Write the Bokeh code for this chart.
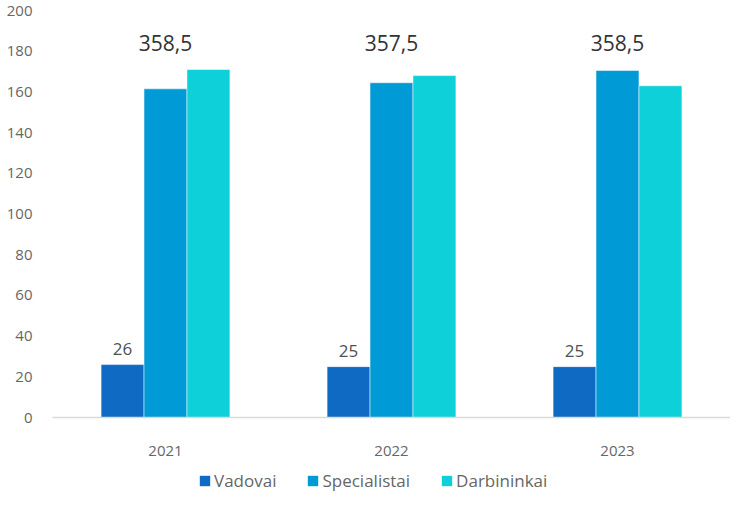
from bokeh.plotting import figure
from bokeh.layouts import column
from bokeh.models import ColumnDataSource, FactorRange, Legend, LegendItem, LabelSet, FixedTicker, Range1d
from bokeh.transform import dodge
from bokeh.embed import file_html
from bokeh.resources import INLINE
from bokeh.core.properties import value

years = ["2021", "2022", "2023"]
series = ["Vadovai", "Specialistai", "Darbininkai"]
vadovai = [26, 25, 25]
specialistai = [161.5, 164.5, 170.5]
darbininkai = [171, 168, 163]
totals = [358.5, 357.5, 358.5]
total_label_y = [184, 184, 184]
y_ticks = [0, 20, 40, 60, 80, 100, 120, 140, 160, 180, 200]

colors = ["#0F6AC4", "#009BD6", "#0DD0D8"]
FONT = "Open Sans"

src = ColumnDataSource(dict(
    years=years, vadovai=vadovai, specialistai=specialistai, darbininkai=darbininkai,
    vad_txt=[str(v).replace(".", ",") for v in vadovai],
    tot_txt=[("%g" % t).replace(".", ",") for t in totals],
    tot_y=total_label_y,
))

p = figure(x_range=FactorRange(*years, range_padding=0), y_range=(0, 200),
           width=730, height=458, output_backend="svg", toolbar_location=None,
           min_border_left=52, min_border_right=0, min_border_top=10, min_border_bottom=0)
p.outline_line_color = None
p.grid.grid_line_color = None

w = 0.19
p.vbar(x=dodge("years", -w, range=p.x_range), top="vadovai", width=w, source=src,
       color=colors[0], line_color="white", line_width=0.5)
p.vbar(x=dodge("years", 0, range=p.x_range), top="specialistai", width=w, source=src,
       color=colors[1], line_color="white", line_width=0.5)
p.vbar(x=dodge("years", w, range=p.x_range), top="darbininkai", width=w, source=src,
       color=colors[2], line_color="white", line_width=0.5)

p.add_layout(LabelSet(x=dodge("years", -w, range=p.x_range), y="vadovai", text="vad_txt", source=src,
                      text_align="center", text_baseline="bottom", y_offset=10,
                      text_font=value(FONT), text_font_size="17px", text_color="#505050"))
p.add_layout(LabelSet(x="years", y="tot_y", text="tot_txt", source=src,
                      text_align="center", text_baseline="middle",
                      text_font=value(FONT), text_font_size="21px", text_color="#333333"))

p.yaxis.ticker = FixedTicker(ticks=y_ticks)
p.yaxis.axis_line_color = None
p.yaxis.major_tick_line_color = None
p.yaxis.minor_tick_line_color = None
p.yaxis.major_label_text_font = FONT
p.yaxis.major_label_text_font_size = "15px"
p.yaxis.major_label_text_color = "#666666"
p.yaxis.major_label_standoff = 14

p.xaxis.axis_line_color = "#D9D9D9"
p.xaxis.axis_line_width = 1.5
p.xaxis.major_tick_line_color = None
p.xaxis.minor_tick_line_color = None
p.xaxis.major_label_text_font = FONT
p.xaxis.major_label_text_font_size = "15px"
p.xaxis.major_label_text_color = "#666666"
p.xaxis.major_label_standoff = 22

# legend strip
pl = figure(width=730, height=34, output_backend="svg", toolbar_location=None,
            min_border=0, x_axis_type=None, y_axis_type=None,
            x_range=Range1d(0, 1), y_range=Range1d(0, 1))
pl.outline_line_color = None
pl.grid.grid_line_color = None
items = []
for name, c in zip(series, colors):
    r = pl.vbar(x=[-5], top=[-5], bottom=[-5], width=0.1, fill_color=c, line_color=None)
    items.append(LegendItem(label=name, renderers=[r]))
legend = Legend(items=items, orientation="horizontal", location=(146, 0),
                label_text_font=FONT, label_text_font_size="17px", label_text_color="#666666",
                glyph_width=13, glyph_height=13, spacing=30, label_standoff=3,
                border_line_color=None, background_fill_alpha=0, margin=0, padding=2)
pl.add_layout(legend, "center")

layout = column(p, pl, spacing=0)
open("out.html", "w").write(file_html(layout, INLINE))
